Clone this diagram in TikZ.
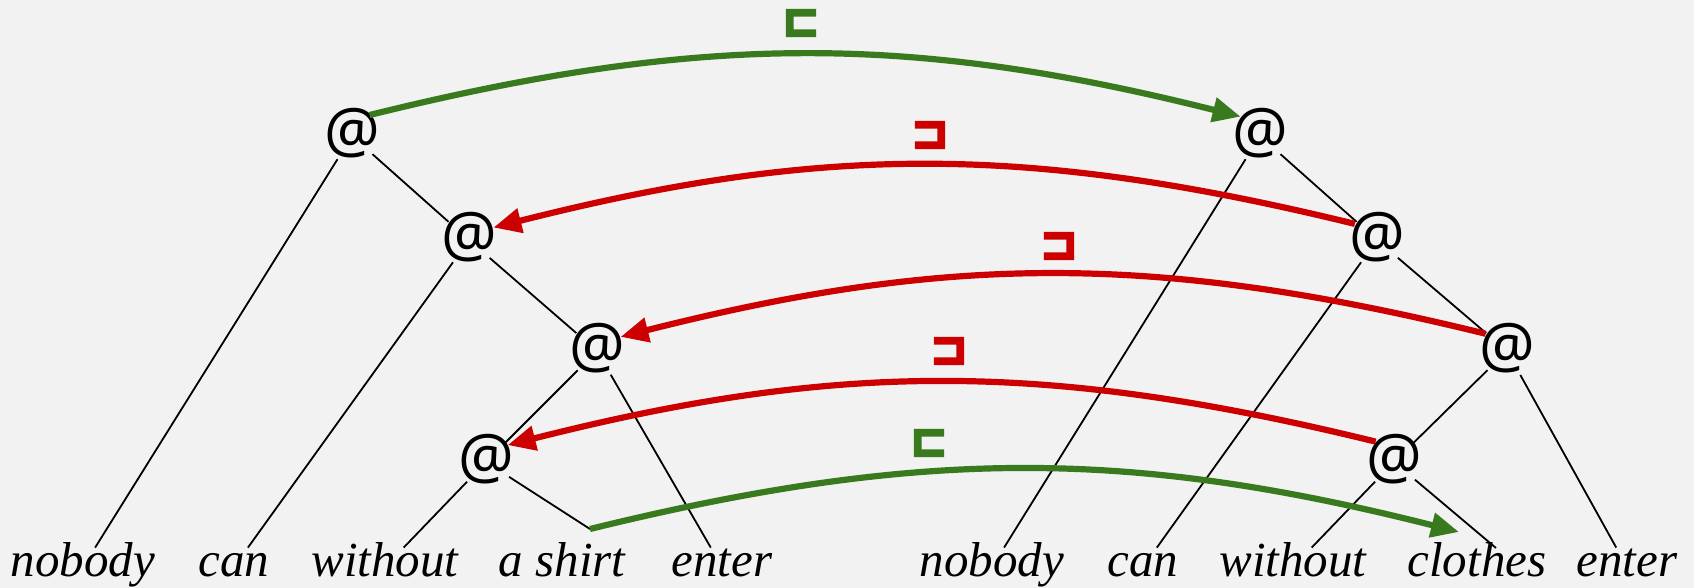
\documentclass[tikz,border=0pt]{standalone}
\usepackage{fontspec}
\setmainfont{Liberation Serif}
\newfontfamily\atfont{Noto Sans}
\newfontfamily\symfont[FakeBold=6]{DejaVu Sans}
\usetikzlibrary{arrows.meta}
\definecolor{bg}{HTML}{F2F2F2}
\definecolor{arcgreen}{HTML}{3A7A1E}
\definecolor{arcred}{HTML}{CC0000}
\newcommand{\atsign}{\makebox[0pt]{\raisebox{-0.26em}[0pt][0pt]{@}}}
\begin{document}
\begin{tikzpicture}[x=0.5pt,y=-0.5pt,
  app/.style={circle,inner sep=0pt,minimum size=27pt,font=\atfont\fontsize{31}{33}\selectfont},
  word/.style={anchor=base,inner sep=0pt,text height=14pt,text depth=5pt,font=\itshape\fontsize{24.5}{28}\selectfont},
  tree/.style={line width=0.9pt,black},
  garc/.style={arcgreen,line width=3.1pt,-{Triangle[length=14pt,width=12pt]}},
  rarc/.style={arcred,line width=3.1pt,-{Triangle[length=14pt,width=12pt]}},
  glab/.style={text=arcgreen,inner sep=0pt,font=\symfont\bfseries\fontsize{22}{24}\selectfont},
  rlab/.style={text=arcred,inner sep=0pt,font=\symfont\bfseries\fontsize{22}{24}\selectfont}
]
\fill[bg] (0,0) rectangle (1694,588);
\useasboundingbox (0,0) rectangle (1694,588);

% left tree
\node[app] (L1) at (352,136) {\atsign};
\node[app] (L2) at (469,240) {\atsign};
\node[app] (L3) at (597,351) {\atsign};
\node[app] (L4) at (486,462) {\atsign};
\node[word] (lnobody) at (83,576) {nobody};
\node[word] (lcan) at (234,576) {can};
\node[word] (lwithout) at (385,576) {without};
\node[word] (lshirt) at (562,576) {a shirt};
\node[word] (lenter) at (722,576) {enter};
\coordinate (shirttop) at (590,529);

% right tree
\node[app] (R1) at (1260,136) {\atsign};
\node[app] (R2) at (1377,240) {\atsign};
\node[app] (R3) at (1507,351) {\atsign};
\node[app] (R4) at (1394,462) {\atsign};
\node[word] (rnobody) at (992,576) {nobody};
\node[word] (rcan) at (1143,576) {can};
\node[word] (rwithout) at (1293,576) {without};
\node[word] (rclothes) at (1477,576) {clothes};
\node[word] (renter) at (1627,576) {enter};
\coordinate (clothestop) at (1496,548);
\coordinate (clothesin) at (1459,532);

\draw[tree] (L1) -- (lnobody);
\draw[tree] (L1) -- (L2);
\draw[tree] (L2) -- (lcan);
\draw[tree] (L2) -- (L3);
\draw[tree] (L3) -- (L4);
\draw[tree] (L3) -- (lenter);
\draw[tree] (L4) -- (lwithout);
\draw[tree] (L4) -- (shirttop);

\draw[tree] (R1) -- (rnobody);
\draw[tree] (R1) -- (R2);
\draw[tree] (R2) -- (rcan);
\draw[tree] (R2) -- (R3);
\draw[tree] (R3) -- (R4);
\draw[tree] (R3) -- (renter);
\draw[tree] (R4) -- (rwithout);
\draw[tree] (R4) -- (clothestop);

% arcs
\draw[garc] (L1.50) to[bend left=14] (R1.135);
\draw[rarc] (R2.144) to[bend right=14] (L2.27);
\draw[rarc] (R3.141) to[bend right=14] (L3.31);
\draw[rarc] (R4.132) to[bend right=14] (L4.38);
\draw[garc] (shirttop) to[bend left=14] (clothesin);

\node[glab] (g1) at (801,23) {⊏};
\node[rlab] (r1) at (930,135) {⊐};
\node[rlab] (r2) at (1059,246) {⊐};
\node[rlab] (r3) at (949,351) {⊐};
\node[glab] (g2) at (929,443) {⊏};
\end{tikzpicture}
\end{document}
